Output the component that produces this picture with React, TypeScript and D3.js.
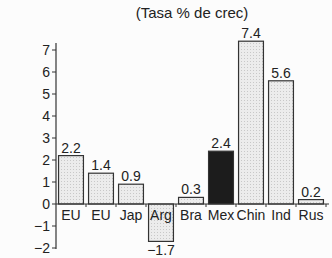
import React from "react";
import * as d3 from "d3";

// Tasa % de crecimiento por país
const categories = ["EU", "EU", "Jap", "Arg", "Bra", "Mex", "Chin", "Ind", "Rus"];
const values = [2.2, 1.4, 0.9, -1.7, 0.3, 2.4, 7.4, 5.6, 0.2];
const valueLabels = ["2.2", "1.4", "0.9", "\u22121.7", "0.3", "2.4", "7.4", "5.6", "0.2"];
const highlighted = ["Mex"];
const yTicks = [-2, -1, 0, 1, 2, 3, 4, 5, 6, 7];
const title = "(Tasa % de crec)";

const width = 332;
const height = 258;
const font = "'Liberation Sans', Arial, Helvetica, sans-serif";
const ink = "#222";

const App: React.FC = () => {
  const x = d3
    .scaleBand<number>()
    .domain(categories.map((_, i) => i))
    .range([56, 326])
    .paddingInner(0.17)
    .paddingOuter(0.085);
  const y = d3.scaleLinear().domain([-2, 7]).range([248, 50]);
  const y0 = y(0);
  const axisX = 56;

  return (
    <svg
      width={width}
      height={height}
      style={{ position: "absolute", left: 0, top: 0, background: "#fcfcfc" }}
      fontFamily={font}
    >
      <defs>
        <pattern id="dots" width="3" height="3" patternUnits="userSpaceOnUse">
          <rect width="3" height="3" fill="#ececec" />
          <rect x="1" y="1" width="1" height="1" fill="#c8c8c8" />
        </pattern>
      </defs>

      <text x={192} y={18} textAnchor="middle" fontSize={15} fill={ink}>
        {title}
      </text>

      {/* bars */}
      {values.map((v, i) => {
        const top = Math.min(y(v), y0);
        const h = Math.abs(y(v) - y0);
        const isHi = highlighted.includes(categories[i]);
        return (
          <rect
            key={i}
            x={x(i)}
            y={top}
            width={x.bandwidth()}
            height={h}
            fill={isHi ? "#1c1c1c" : "url(#dots)"}
            stroke="#333"
            strokeWidth={1.2}
          />
        );
      })}

      {/* value labels */}
      {values.map((v, i) => (
        <text
          key={i}
          x={x(i)! + x.bandwidth() / 2}
          y={v >= 0 ? y(v) - 3 : y(v) + 14}
          textAnchor="middle"
          fontSize={14}
          fill={ink}
        >
          {valueLabels[i]}
        </text>
      ))}

      {/* x axis */}
      <line x1={axisX} x2={329} y1={y0} y2={y0} stroke="#333" strokeWidth={1.2} />
      {categories.map((_, i) => (
        <line
          key={i}
          x1={x(i)! + x.bandwidth() + (x.step() - x.bandwidth()) / 2}
          x2={x(i)! + x.bandwidth() + (x.step() - x.bandwidth()) / 2}
          y1={y0}
          y2={y0 + 3}
          stroke="#333"
        />
      ))}
      {categories.map((c, i) => (
        <text
          key={i}
          x={x(i)! + x.bandwidth() / 2}
          y={y0 + 16}
          textAnchor="middle"
          fontSize={14}
          fill={ink}
        >
          {c}
        </text>
      ))}

      {/* y axis */}
      <line x1={axisX} x2={axisX} y1={43} y2={y(-2) + 1} stroke="#333" strokeWidth={1.2} />
      {yTicks.map((t) => (
        <g key={t} transform={`translate(0,${y(t)})`}>
          <line x1={axisX - 4} x2={axisX} stroke="#333" />
          <text x={axisX - 6} dy="0.35em" textAnchor="end" fontSize={14} fill={ink}>
            {t < 0 ? `\u2212${-t}` : t}
          </text>
        </g>
      ))}
    </svg>
  );
};

export default App;
